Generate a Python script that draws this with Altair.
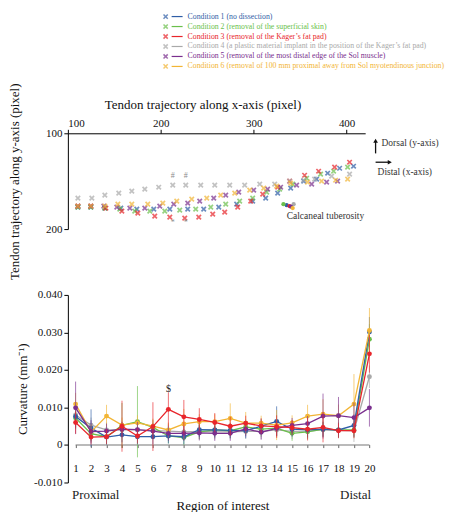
import altair as alt
import pandas as pd

FONT = "Liberation Serif"

conditions = [
    "Condition 1 (no dissection)",
    "Condition 2 (removal of the superficial skin)",
    "Condition 3 (removal of the Kager\u2019s fat pad)",
    "Condition 4 (a plastic material implant in the position of the Kager\u2019s fat pad)",
    "Condition 5 (removal of the most distal edge of the Sol muscle)",
    "Condition 6 (removal of 100 mm proximal away from Sol myotendinous junction)",
]
colors = ["#2f5ea6", "#6abf4b", "#e8252b", "#a9a9a9", "#7a2f8e", "#f2b535"]

# ---------------- top panel: tendon trajectory (pixel) ----------------
traj_x_c1 = [110.8, 124.7, 139.8, 157.0, 174.2, 192.5, 209.7, 229.0, 246.2, 262.4, 281.7, 298.9, 312.9, 325.8, 339.8, 353.8, 367.7, 379.6, 392.5, 407.5]
traj_y_c1 = [177.1, 177.1, 178.1, 178.1, 179.2, 179.2, 179.2, 179.2, 179.2, 177.1, 174.0, 170.8, 167.7, 162.5, 157.3, 150.0, 147.9, 141.7, 136.5, 134.4]
traj_x_c2 = [110.8, 124.7, 139.8, 155.9, 172.0, 188.2, 204.3, 220.4, 237.6, 253.8, 269.9, 284.9, 298.9, 314.0, 328.0, 342.0, 357.0, 372.0, 386.0, 401.1]
traj_y_c2 = [177.1, 177.1, 178.1, 179.2, 181.3, 181.3, 181.3, 180.2, 179.2, 177.1, 174.0, 170.8, 167.7, 161.5, 158.3, 153.1, 146.9, 142.7, 139.6, 135.4]
traj_x_c3 = [110.8, 124.7, 140.9, 158.1, 175.3, 193.5, 209.7, 225.8, 240.9, 255.9, 268.8, 282.8, 296.8, 309.7, 325.8, 338.7, 354.8, 369.9, 387.1, 403.2]
traj_y_c3 = [176.0, 176.0, 178.1, 181.3, 183.3, 186.5, 187.5, 188.5, 187.5, 184.4, 182.3, 177.1, 170.8, 163.5, 156.3, 150.0, 143.8, 139.6, 135.4, 130.2]
traj_x_c4 = [110.8, 125.8, 139.8, 154.8, 168.8, 182.8, 197.8, 212.9, 226.9, 243.0, 258.1, 274.2, 290.3, 306.5, 322.6, 338.7, 353.8, 365.6, 383.9, 403.2]
traj_y_c4 = [167.7, 167.7, 164.6, 162.5, 160.4, 158.3, 156.3, 154.2, 154.2, 154.2, 154.2, 154.2, 154.2, 153.1, 153.1, 150.0, 149.0, 147.9, 144.8, 142.7]
traj_x_c5 = [110.8, 124.7, 138.7, 152.7, 166.7, 182.8, 198.9, 214.0, 229.0, 241.9, 257.0, 269.9, 283.9, 300.0, 315.0, 329.0, 346.2, 362.4, 378.5, 390.3]
traj_y_c5 = [176.0, 176.0, 176.0, 177.1, 178.1, 178.1, 176.0, 174.0, 172.9, 170.8, 167.7, 164.6, 161.5, 159.4, 158.3, 156.3, 154.2, 153.1, 151.0, 150.0]
traj_x_c6 = [110.8, 124.7, 139.8, 153.8, 168.8, 186.0, 202.2, 217.2, 233.3, 249.5, 264.5, 279.6, 295.7, 310.8, 324.7, 339.8, 358.0, 373.1, 388.2, 401.1]
traj_y_c6 = [176.0, 176.0, 176.0, 174.0, 174.0, 174.0, 172.9, 170.8, 168.8, 167.7, 164.6, 162.5, 159.4, 157.3, 155.2, 152.1, 151.0, 150.0, 149.0, 147.9]

# calcaneal tuberosity position per condition
calc_x = [335.5, 332.0, 338.5, 343.0, 340.0, 342.0]
calc_y = [175.0, 174.0, 176.0, 174.0, 176.5, 178.1]

# significance symbols on the trajectory panel
sig_text = ["#", "#", "*", "*"]
sig_x = [212.9, 226.9, 212.9, 226.9]
sig_y = [144.8, 144.8, 193.8, 193.8]

# ---------------- bottom panel: curvature ----------------
roi = list(range(1, 21))
curv_c1 = [0.0076, 0.0045, 0.0021, 0.0027, 0.0022, 0.0022, 0.0024, 0.0022, 0.0041, 0.0040, 0.0039, 0.0038, 0.0050, 0.0063, 0.0042, 0.0040, 0.0042, 0.0040, 0.0052, 0.0301]
curv_c2 = [0.0072, 0.0030, 0.0022, 0.0052, 0.0062, 0.0047, 0.0024, 0.0020, 0.0035, 0.0040, 0.0038, 0.0048, 0.0042, 0.0045, 0.0031, 0.0035, 0.0042, 0.0040, 0.0040, 0.0282]
curv_c3 = [0.0060, 0.0021, 0.0022, 0.0050, 0.0024, 0.0049, 0.0095, 0.0075, 0.0068, 0.0060, 0.0050, 0.0058, 0.0051, 0.0049, 0.0046, 0.0042, 0.0047, 0.0038, 0.0038, 0.0243]
curv_c4 = [0.0080, 0.0053, 0.0040, 0.0040, 0.0040, 0.0038, 0.0037, 0.0035, 0.0036, 0.0035, 0.0035, 0.0036, 0.0036, 0.0040, 0.0036, 0.0037, 0.0040, 0.0039, 0.0038, 0.0182]
curv_c5 = [0.0099, 0.0036, 0.0037, 0.0042, 0.0041, 0.0037, 0.0031, 0.0031, 0.0032, 0.0031, 0.0031, 0.0043, 0.0034, 0.0044, 0.0052, 0.0057, 0.0077, 0.0078, 0.0073, 0.0099]
curv_c6 = [0.0109, 0.0035, 0.0077, 0.0053, 0.0059, 0.0050, 0.0040, 0.0056, 0.0062, 0.0062, 0.0071, 0.0058, 0.0058, 0.0053, 0.0059, 0.0077, 0.0082, 0.0078, 0.0109, 0.0305]

sd_c1 = [0.0030, 0.0050, 0.0020, 0.0020, 0.0020, 0.0020, 0.0020, 0.0020, 0.0020, 0.0020, 0.0020, 0.0020, 0.0020, 0.0040, 0.0020, 0.0020, 0.0020, 0.0020, 0.0030, 0.0040]
sd_c2 = [0.0030, 0.0020, 0.0020, 0.0060, 0.0095, 0.0020, 0.0020, 0.0020, 0.0020, 0.0020, 0.0020, 0.0020, 0.0020, 0.0020, 0.0020, 0.0020, 0.0020, 0.0020, 0.0020, 0.0040]
sd_c3 = [0.0030, 0.0020, 0.0020, 0.0068, 0.0020, 0.0065, 0.0045, 0.0045, 0.0030, 0.0025, 0.0025, 0.0020, 0.0020, 0.0030, 0.0020, 0.0030, 0.0040, 0.0020, 0.0020, 0.0050]
sd_c4 = [0.0030, 0.0020, 0.0020, 0.0020, 0.0020, 0.0020, 0.0020, 0.0020, 0.0020, 0.0020, 0.0020, 0.0020, 0.0020, 0.0020, 0.0020, 0.0020, 0.0020, 0.0020, 0.0030, 0.0030]
sd_c5 = [0.0070, 0.0030, 0.0020, 0.0020, 0.0020, 0.0020, 0.0020, 0.0020, 0.0020, 0.0020, 0.0020, 0.0020, 0.0020, 0.0020, 0.0020, 0.0020, 0.0060, 0.0050, 0.0040, 0.0050]
sd_c6 = [0.0030, 0.0020, 0.0030, 0.0020, 0.0020, 0.0020, 0.0020, 0.0040, 0.0020, 0.0020, 0.0040, 0.0030, 0.0020, 0.0040, 0.0020, 0.0030, 0.0040, 0.0030, 0.0080, 0.0060]

y_ticks_curv = [-0.01, 0.0, 0.01, 0.02, 0.03, 0.04]

# ---------------- build tables ----------------
traj_x = [traj_x_c1, traj_x_c2, traj_x_c3, traj_x_c4, traj_x_c5, traj_x_c6]
traj_y = [traj_y_c1, traj_y_c2, traj_y_c3, traj_y_c4, traj_y_c5, traj_y_c6]
curv = [curv_c1, curv_c2, curv_c3, curv_c4, curv_c5, curv_c6]
sds = [sd_c1, sd_c2, sd_c3, sd_c4, sd_c5, sd_c6]

rows = []
for k in range(6):
    for xv, yv in zip(traj_x[k], traj_y[k]):
        rows.append({"cond": conditions[k], "k": k, "x": xv, "y": yv})
traj_df = pd.DataFrame(rows)

calc_df = pd.DataFrame({"cond": conditions, "k": range(6), "x": calc_x, "y": calc_y})
sig_df = pd.DataFrame({"t": sig_text, "x": sig_x, "y": sig_y})

rows = []
for k in range(6):
    for r, m, s in zip(roi, curv[k], sds[k]):
        rows.append({"cond": conditions[k], "k": k, "roi": r, "mean": m, "lo": m - s, "hi": m + s})
curv_df = pd.DataFrame(rows)

legend_df = pd.DataFrame({"cond": conditions, "row": range(6)})

color_scale = alt.Scale(domain=conditions, range=colors)
XPATH = "M-1,-1L1,1M-1,1L1,-1"

# ---------------- legend block ----------------
lbase = alt.Chart(legend_df).encode(
    y=alt.Y("row:Q", scale=alt.Scale(domain=[-0.5, 5.1], reverse=True, nice=False, zero=False), axis=None),
    color=alt.Color("cond:N", scale=color_scale, legend=None),
)
legend_chart = alt.layer(
    lbase.mark_point(shape=XPATH, filled=False, strokeWidth=1.5, size=18).encode(x=alt.value(98)),
    lbase.mark_rule(strokeWidth=1.2).encode(x=alt.value(104), x2=alt.value(115)),
    lbase.mark_text(align="left", baseline="middle", font=FONT, fontSize=7.8).encode(
        x=alt.value(120), text="cond:N"),
).properties(width=298, height=56)

# ---------------- trajectory panel ----------------
tx = alt.X("x:Q", scale=alt.Scale(domain=[100, 420], nice=False, zero=False),
           axis=alt.Axis(orient="top", values=[100, 200, 300, 400], tickSize=4, labelPadding=1,
                         title="Tendon trajectory along x-axis (pixel)", titlePadding=6, titleX=135))
ty = alt.Y("y:Q", scale=alt.Scale(domain=[100, 200], reverse=True, nice=False, zero=False),
           axis=alt.Axis(values=[100, 200], tickSize=4, labelPadding=2,
                         title="Tendon trajectory along y-axis (pixel)", titlePadding=23.5))

traj_pts = alt.Chart(traj_df).mark_point(shape=XPATH, filled=False, strokeWidth=1.7, size=20).encode(
    x=tx, y=ty, color=alt.Color("cond:N", scale=color_scale, legend=None))
calc_pts = alt.Chart(calc_df).mark_circle(size=18, opacity=1).encode(
    x=tx, y=ty, color=alt.Color("cond:N", scale=color_scale, legend=None))
sig_marks = alt.Chart(sig_df).mark_text(font=FONT, fontSize=8, color="#8c8c8c", baseline="middle").encode(
    x=tx, y=ty, text="t:N")

note_text = ["Dorsal (y-axis)", "Distal (x-axis)", "Calcaneal tuberosity"]
note_x = [437.6, 433.3, 335.5]
note_y = [110.4, 140.6, 186.5]
notes_df = pd.DataFrame({"t": note_text, "x": note_x, "y": note_y})
notes = alt.Chart(notes_df).mark_text(font=FONT, fontSize=9.5, align="left", baseline="middle", color="#333").encode(
    x=tx, y=ty, text="t:N")

arrow_df = pd.DataFrame({"x": [431.2, 431.2], "y": [121.0, 130.2], "x2": [431.2, 445.5], "y2": [108.5, 130.2],
                         "hx": [431.2, 446.5], "hy": [107.8, 130.2], "ang": [0, 90]})
arrow_lines = alt.Chart(arrow_df).mark_rule(color="#111", strokeWidth=1.3).encode(
    x=tx, y=ty, x2="x2:Q", y2="y2:Q")
arrow_heads = alt.Chart(arrow_df).mark_point(shape="triangle-up", filled=True, color="#111", size=22, opacity=1).encode(
    x=alt.X("hx:Q", scale=alt.Scale(domain=[100, 420], nice=False, zero=False)),
    y=alt.Y("hy:Q", scale=alt.Scale(domain=[100, 200], reverse=True, nice=False, zero=False)),
    angle=alt.Angle("ang:Q", scale=None))

traj_chart = alt.layer(traj_pts, calc_pts, sig_marks, notes, arrow_lines, arrow_heads).properties(width=298, height=96)

# ---------------- curvature panel ----------------
def cx():
    return alt.X("roi:Q", scale=alt.Scale(domain=[0.5, 20.5], nice=False, zero=False),
                 axis=alt.Axis(values=roi, format="d", domain=False, tickSize=3, tickColor="#666",
                               offset=-38, labelPadding=15, title="Region of interest", titlePadding=26))

def cy(field):
    return alt.Y(field, scale=alt.Scale(domain=[-0.01, 0.04], nice=False, zero=False),
                 axis=alt.Axis(values=y_ticks_curv, tickSize=4, labelPadding=2,
                               labelExpr="datum.value == 0 ? '0' : replace(format(datum.value, '.3f'), '\u2212', '-')",
                               title="Curvature (mm\u207b\u00b9)", titlePadding=4))

zero_df = pd.DataFrame({"roi": [1], "roi2": [20], "v": [0.0]})
zero_line = alt.Chart(zero_df).mark_rule(color="#777", strokeWidth=1.2).encode(
    x=cx(), x2="roi2:Q", y=cy("v:Q"))

layers = [zero_line]
draw_order = [3, 1, 0, 5, 4, 2]
for k in draw_order:
    base = alt.Chart(curv_df).transform_filter(alt.datum.k == k).encode(
        x=cx(), color=alt.Color("cond:N", scale=color_scale, legend=None))
    layers.append(base.mark_rule(strokeWidth=1, opacity=0.65).encode(y=cy("lo:Q"), y2="hi:Q"))
    layers.append(base.mark_line(strokeWidth=1.3).encode(y=cy("mean:Q")))
    layers.append(base.mark_circle(size=24, opacity=1).encode(y=cy("mean:Q")))

ann_text = ["$", "Proximal", "Distal"]
ann_x = [7.0, 2.3, 19.1]
ann_y = [0.0150, -0.0133, -0.0133]
ann_size = [10, 13, 13]
ann_df = pd.DataFrame({"t": ann_text, "roi": ann_x, "v": ann_y, "fs": ann_size})
ann = alt.Chart(ann_df).mark_text(font=FONT, color="#222", baseline="middle").encode(
    x=cx(), y=cy("v:Q"), text="t:N", size=alt.Size("fs:Q", scale=None, legend=None))
layers.append(ann)

curv_chart = alt.layer(*layers).properties(width=310, height=188)

chart = alt.vconcat(legend_chart, traj_chart, curv_chart, spacing=66, bounds="flush").properties(
    padding={"left": 0, "top": 2, "right": 0, "bottom": 0}
).configure_axis(
    labelFont=FONT, titleFont=FONT, labelFontSize=11, titleFontSize=13, titleFontWeight="normal",
    domainColor="black", tickColor="black", labelColor="#111", titleColor="#111", grid=False
).configure_view(stroke="transparent")

chart.save("out.html", embed_options={"renderer": "svg", "actions": False})
